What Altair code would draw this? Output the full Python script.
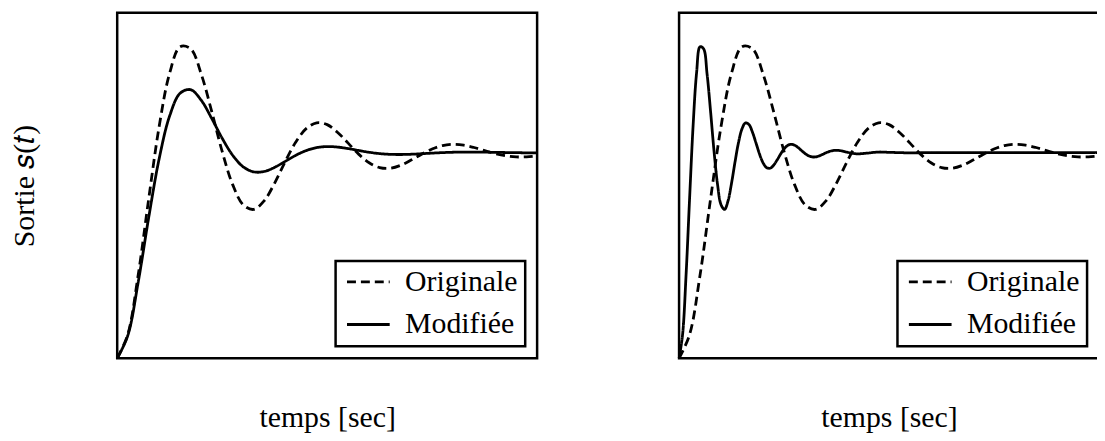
import altair as alt
import pandas as pd

FONT = "Liberation Serif"
FS = 30

series_names = ["Originale", "Modifiée"]

# time samples (s) for the slow curves
t_slow = [0.0, 0.5, 1.0, 1.5, 2.0, 2.5, 3.0, 3.5, 4.0, 4.5, 5.0, 5.5, 6.0, 6.5, 7.0,
          7.5, 8.0, 8.5, 9.0, 9.5, 10.0, 10.5, 11.0, 11.5, 12.0, 12.5, 13.0, 13.5,
          14.0, 14.5, 15.0, 15.5, 16.0, 16.5, 17.0, 17.5, 18.0, 18.5, 19.0, 19.5, 20.0]

# original response (both panels)
s_orig = [0.0, 0.1147, 0.4051, 0.7747, 1.1279, 1.3873, 1.5151, 1.5051, 1.3827, 1.2008,
          1.0056, 0.8443, 0.7465, 0.7238, 0.7657, 0.8521, 0.9556, 1.0503, 1.1166, 1.1450,
          1.1361, 1.0982, 1.0461, 0.9928, 0.9506, 0.9273, 0.9242, 0.9385, 0.9639, 0.9926,
          1.0178, 1.0345, 1.0405, 1.0364, 1.0249, 1.0101, 0.9957, 0.9848, 0.9793, 0.9794,
          0.9840]

# modified response, left panel
s_mod_left = [0.0, 0.1093, 0.3702, 0.6843, 0.9710, 1.1791, 1.2892, 1.3060, 1.2550, 1.1667,
              1.0699, 0.9873, 0.9311, 0.9065, 0.9082, 0.9284, 0.9574, 0.9866, 1.0099, 1.0244,
              1.0295, 1.0270, 1.0196, 1.0105, 1.0018, 0.9953, 0.9917, 0.9909, 0.9922, 0.9947,
              0.9976, 1.0001, 1.0019, 1.0027, 1.0027, 1.0022, 1.0014, 1.0005, 0.9998, 0.9992,
              0.9992]

# modified response, right panel (fast)
t_fast = [0.0, 0.1667, 0.3333, 0.5, 0.6667, 0.8333, 1.0, 1.1667, 1.3333, 1.5, 1.6667,
          1.8333, 2.0, 2.1667, 2.3333, 2.5, 2.6667, 2.8333, 3.0, 3.1667, 3.3333, 3.5,
          3.6667, 3.8333, 4.0, 4.1667, 4.3333, 4.5, 4.6667, 4.8333, 5.0, 5.1667, 5.3333,
          5.5, 5.6667, 5.8333, 6.0, 6.1667, 6.3333, 6.5, 6.6667, 6.8333, 7.0, 7.1667,
          7.3333, 7.5, 7.6667, 7.8333, 8.0, 8.25, 8.5, 9.0, 9.5, 10.0, 11.0, 12.0, 14.0,
          16.0, 18.0, 20.0]
s_mod_right = [0.0, 0.1147, 0.4051, 0.7747, 1.1279, 1.3873, 1.5151, 1.5051, 1.3827, 1.2008,
               1.0056, 0.8443, 0.7465, 0.7238, 0.7657, 0.8521, 0.9556, 1.0503, 1.1166, 1.1450,
               1.1361, 1.0982, 1.0461, 0.9928, 0.9506, 0.9273, 0.9242, 0.9385, 0.9639, 0.9926,
               1.0178, 1.0345, 1.0405, 1.0364, 1.0249, 1.0101, 0.9957, 0.9848, 0.9793, 0.9794,
               0.9840, 0.9913, 0.9993, 1.0060, 1.0101, 1.0112, 1.0097, 1.0062, 1.0021, 0.9966,
               0.9942, 0.9980, 1.0029, 1.0015, 0.9990, 1.0, 1.0, 1.0, 1.0, 1.0]


def frame(t1, s1, t2, s2):
    return pd.DataFrame({
        "t": list(t1) + list(t2),
        "s": list(s1) + list(s2),
        "serie": [series_names[0]] * len(t1) + [series_names[1]] * len(t2),
    })


df_left = frame(t_slow, s_orig, t_slow, s_mod_left)
df_right = frame(t_slow, s_orig, t_fast, s_mod_right)

legend = alt.Legend(
    title=None, orient="bottom-right", offset=12,
    symbolType="stroke", symbolSize=1849, symbolStrokeWidth=2.8,
    symbolStrokeColor="black", symbolOffset=3, clipHeight=28,
    labelFont=FONT, labelFontSize=FS, labelColor="black", labelOffset=14,
    strokeColor="black", fillColor="white", padding=7, rowPadding=13,
)

dash = alt.StrokeDash(
    "serie:N",
    scale=alt.Scale(domain=series_names, range=[[9, 5], [1, 0]]),
    legend=legend,
)

xaxis = alt.Axis(title="temps [sec]", ticks=False, labels=False, domain=False, grid=False,
                 titleFont=FONT, titleFontSize=FS, titleFontWeight="normal",
                 titleColor="black", titlePadding=45)


def panel(df, yaxis):
    return alt.Chart(df).mark_line(color="black", strokeWidth=2.8,
                                   interpolate="catmull-rom").encode(
        x=alt.X("t:Q", scale=alt.Scale(domain=[0, 20], nice=False, zero=False), axis=xaxis),
        y=alt.Y("s:Q", scale=alt.Scale(domain=[0, 1.68], nice=False), axis=yaxis),
        strokeDash=dash,
    ).properties(width=423, height=348)


yaxis_left = alt.Axis(title="Sortie 𝑠(𝑡)", ticks=False, labels=False, domain=False, grid=False,
                      titleFont=FONT, titleFontSize=FS, titleFontWeight="normal",
                      titleColor="black", titlePadding=78)

left = panel(df_left, yaxis_left)
right = panel(df_right, None)

chart = alt.hconcat(left, right, spacing=129).resolve_legend(
    strokeDash="independent"
).configure_view(
    stroke="black", strokeWidth=2.5
).configure_legend(
    strokeWidth=2.5
).properties(
    autosize=alt.AutoSizeParams(type="none"),
    padding={"left": 110, "top": 2, "right": 987, "bottom": 423}
)

chart.save("out.html", embed_options={"renderer": "svg", "actions": False})
